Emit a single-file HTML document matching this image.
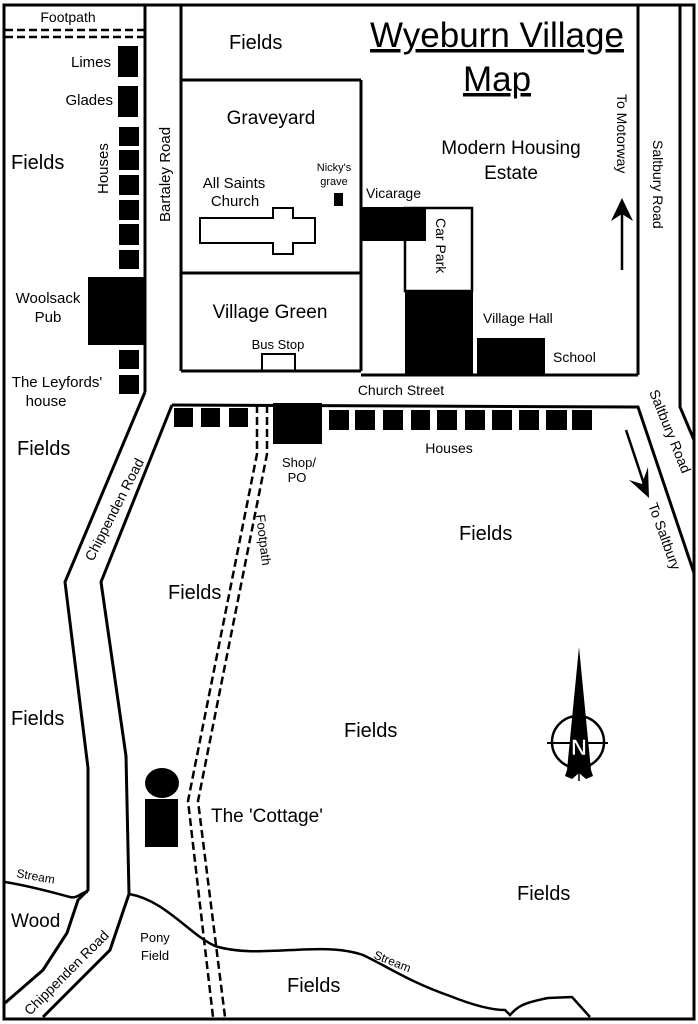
<!DOCTYPE html>
<html><head><meta charset="utf-8"><style>
html,body{margin:0;padding:0;background:#fff;}
svg{display:block;}
text{font-family:"Liberation Sans",Arial,sans-serif;fill:#000;}
</style></head><body>
<svg width="698" height="1024" viewBox="0 0 698 1024" xmlns="http://www.w3.org/2000/svg">
<g fill="none" stroke="#000" stroke-width="3">
<rect x="4" y="5" width="690" height="1014"/>
<line x1="145" y1="5" x2="145" y2="392"/>
<line x1="181" y1="5" x2="181" y2="371"/>
<line x1="181" y1="80" x2="361" y2="80"/>
<line x1="361" y1="80" x2="361" y2="371"/>
<line x1="181" y1="273" x2="361" y2="273"/>
<line x1="181" y1="371" x2="361" y2="371"/>
<line x1="361" y1="375" x2="638" y2="375"/>
<line x1="638" y1="5" x2="638" y2="375"/>
<polyline points="680,5 680,407 694,440"/>
<polyline points="172,405 638,407 694,573"/>
<polyline points="145,392 65,582 88,768 88,890 78,900 67,933 43,970 5,1003"/>
<polyline points="172,405 101,582 126,756 129,894 110,950 80,980 43,1017"/>
<path d="M5,882 C30,886 55,893 70,897 C78,899 82,891 88,892" stroke-width="2.5"/>
<path d="M129,894 C165,900 190,935 215,946 C260,960 320,940 363,955 C390,968 410,982 450,996 C470,1004 490,1010 505,1010 L510,1015 C518,1006 523,1003 548,998 L572,997 L590,1017" stroke-width="2.5"/>
<polygon points="200,218 273,218 273,208 293,208 293,218 315,218 315,243 293,243 293,254 273,254 273,243 200,243" stroke-width="2"/>
<rect x="262" y="354" width="33" height="17" stroke-width="2"/>
<rect x="405" y="208" width="67" height="83" stroke-width="2.5"/>
</g>
<g fill="none" stroke="#000" stroke-width="2.5" stroke-dasharray="8,4">
<line x1="5" y1="30" x2="145" y2="30"/>
<line x1="5" y1="37" x2="145" y2="37"/>
<polyline points="257,405 257,454 188,801 213,1017"/>
<polyline points="267,405 267,454 198,801 225,1017"/>
</g>
<g fill="#000">
<rect x="118" y="46" width="20" height="31"/>
<rect x="118" y="86" width="20" height="31"/>
<rect x="119" y="127" width="20" height="19"/>
<rect x="119" y="150" width="20" height="20"/>
<rect x="119" y="175" width="20" height="20"/>
<rect x="119" y="200" width="20" height="20"/>
<rect x="119" y="224" width="20" height="21"/>
<rect x="119" y="250" width="20" height="19"/>
<rect x="88" y="277" width="57" height="68"/>
<rect x="119" y="350" width="20" height="19"/>
<rect x="119" y="375" width="20" height="19"/>
<rect x="334" y="193" width="9" height="13"/>
<rect x="361" y="207" width="65" height="34"/>
<rect x="405" y="290" width="68" height="85"/>
<rect x="477" y="338" width="68" height="37"/>
<rect x="174" y="408" width="19" height="19"/>
<rect x="201" y="408" width="19" height="19"/>
<rect x="229" y="408" width="19" height="19"/>
<rect x="273" y="403" width="49" height="41"/>
<rect x="329" y="410" width="20" height="20"/>
<rect x="355" y="410" width="20" height="20"/>
<rect x="383" y="410" width="20" height="20"/>
<rect x="411" y="410" width="19" height="20"/>
<rect x="437" y="410" width="20" height="20"/>
<rect x="465" y="410" width="20" height="20"/>
<rect x="492" y="410" width="20" height="20"/>
<rect x="519" y="410" width="20" height="20"/>
<rect x="546" y="410" width="21" height="20"/>
<rect x="572" y="410" width="20" height="20"/>
<ellipse cx="162" cy="783" rx="17" ry="15"/>
<rect x="145" y="799" width="33" height="48"/>
</g>
<g stroke="#000" stroke-width="2.5" fill="#000">
<line x1="622" y1="270" x2="622" y2="210"/>
<polygon points="622,198 611,221 622,214 633,221" stroke="none"/>
<line x1="626" y1="430" x2="645" y2="487"/>
<polygon points="649,498 629,480 642,484 648,467" stroke="none"/>
</g>
<g>
<circle cx="578" cy="742" r="26" fill="none" stroke="#000" stroke-width="2.5"/>
<line x1="547" y1="743" x2="608" y2="743" stroke="#000" stroke-width="2"/>
<polygon points="579,647 591,770 593,776 586,779 579,773 572,779 565,776 567,770" fill="#000"/>
<line x1="579" y1="770" x2="579" y2="781" stroke="#000" stroke-width="1.5"/>
<text x="579" y="755" font-size="22" font-weight="bold" text-anchor="middle" style="fill:#fff" stroke="#000" stroke-width="0.6">N</text>
</g>
<g font-size="14">
<text x="68" y="22" text-anchor="middle" font-size="14">Footpath</text>
<text x="111" y="67" text-anchor="end" font-size="15">Limes</text>
<text x="113" y="105" text-anchor="end" font-size="15">Glades</text>
<text x="11" y="169" font-size="20">Fields</text>
<text transform="translate(108,194) rotate(-90)" font-size="15">Houses</text>
<text transform="translate(170,222) rotate(-90)" font-size="15">Bartaley Road</text>
<text x="48" y="303" text-anchor="middle" font-size="15">Woolsack</text>
<text x="48" y="322" text-anchor="middle" font-size="15">Pub</text>
<text x="57" y="387" text-anchor="middle" font-size="15">The Leyfords'</text>
<text x="46" y="406" text-anchor="middle" font-size="15">house</text>
<text x="229" y="49" font-size="20">Fields</text>
<text x="497" y="47" text-anchor="middle" font-size="35" text-decoration="underline">Wyeburn Village</text>
<text x="497" y="91" text-anchor="middle" font-size="35" text-decoration="underline">Map</text>
<text x="271" y="124" text-anchor="middle" font-size="19">Graveyard</text>
<text x="234" y="188" text-anchor="middle" font-size="15">All Saints</text>
<text x="235" y="206" text-anchor="middle" font-size="15">Church</text>
<text x="334" y="171" text-anchor="middle" font-size="11">Nicky's</text>
<text x="334" y="185" text-anchor="middle" font-size="11">grave</text>
<text x="366" y="198" font-size="14">Vicarage</text>
<text x="511" y="154" text-anchor="middle" font-size="19">Modern Housing</text>
<text x="511" y="179" text-anchor="middle" font-size="19">Estate</text>
<text transform="translate(617,94) rotate(90)" font-size="14">To Motorway</text>
<text transform="translate(653,140) rotate(90)" font-size="14">Saltbury Road</text>
<text transform="translate(436,218) rotate(90)" font-size="14">Car Park</text>
<text x="270" y="318" text-anchor="middle" font-size="19">Village Green</text>
<text x="278" y="349" text-anchor="middle" font-size="13">Bus Stop</text>
<text x="483" y="323" font-size="14">Village Hall</text>
<text x="553" y="362" font-size="14">School</text>
<text x="401" y="395" text-anchor="middle" font-size="14">Church Street</text>
<text x="449" y="453" text-anchor="middle" font-size="14">Houses</text>
<text x="299" y="467" text-anchor="middle" font-size="13">Shop/</text>
<text x="297" y="482" text-anchor="middle" font-size="13">PO</text>
<text transform="translate(649,392) rotate(68)" font-size="14">Saltbury Road</text>
<text transform="translate(648,505) rotate(70)" font-size="14">To Saltbury</text>
<text x="17" y="455" font-size="20">Fields</text>
<text transform="translate(93,562) rotate(-63)" font-size="14">Chippenden Road</text>
<text x="459" y="540" font-size="20">Fields</text>
<text transform="translate(256,515) rotate(83)" font-size="13">Footpath</text>
<text x="168" y="599" font-size="20">Fields</text>
<text x="11" y="725" font-size="20">Fields</text>
<text x="344" y="737" font-size="20">Fields</text>
<text x="211" y="822" font-size="19">The 'Cottage'</text>
<text x="517" y="900" font-size="20">Fields</text>
<text transform="translate(16,877) rotate(10)" font-size="12">Stream</text>
<text x="11" y="927" font-size="19">Wood</text>
<text transform="translate(30,1016) rotate(-45)" font-size="14">Chippenden  Road</text>
<text x="155" y="942" text-anchor="middle" font-size="13">Pony</text>
<text x="155" y="960" text-anchor="middle" font-size="13">Field</text>
<text transform="translate(373,958) rotate(22)" font-size="12">Stream</text>
<text x="287" y="992" font-size="20">Fields</text>
</g>
</svg>
</body></html>
